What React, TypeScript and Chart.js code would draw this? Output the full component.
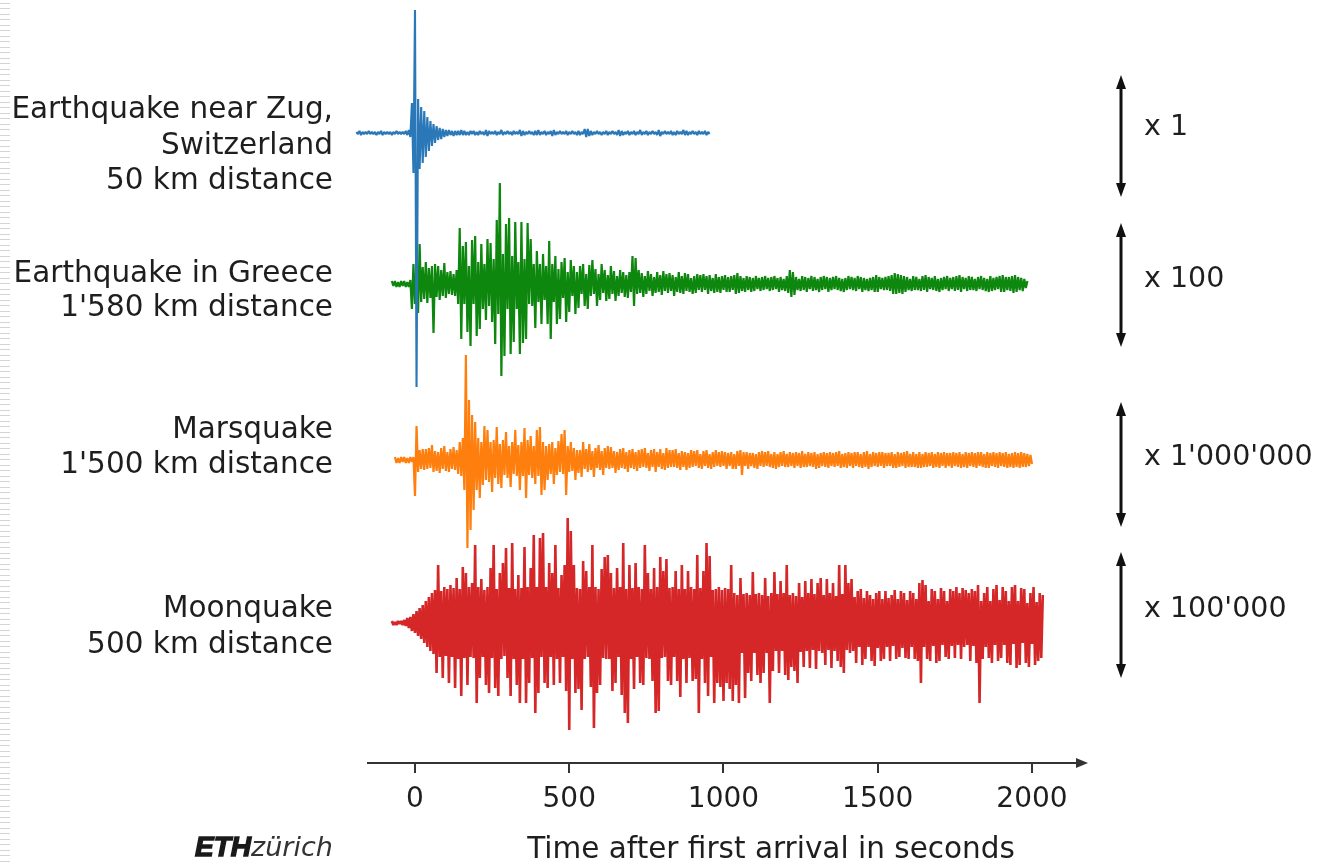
import React, { useEffect, useRef } from "react";
import { Chart, registerables } from "chart.js";

Chart.register(...registerables);

// ---------------- DATA ----------------
const SAMPLE_STEP = 5;

const ZUG_START = -190;
const ZUG_AMPS = [
  1,-1,2,-2,1,-1,1,-1,2,-1,1,-1,1,-2,1,-1,2,-2,1,-1,
  1,-1,1,-2,1,-1,2,-1,1,-1,1,-1,2,-2,3,-4,30,-40,123,-254,
  34,-36,26,-30,22,-24,16,-18,12,-13,9,-10,7,-7,5,-6,4,-4,3,-3,
  3,-2,2,-3,2,-2,2,-2,3,-2,2,-2,1,-2,2,-1,2,-2,1,-2,
  2,-1,1,-2,3,-3,2,-1,1,-1,2,-2,1,-1,3,-2,1,-1,2,-1,
  1,-2,2,-1,1,-1,3,-3,2,-2,1,-1,2,-1,1,-2,2,-2,3,-2,
  1,-1,2,-2,1,-1,2,-3,3,-2,1,-1,2,-1,1,-1,2,-2,1,-1,
  2,-1,1,-2,2,-2,1,-1,4,-4,4,-3,2,-2,1,-1,2,-1,1,-2,
  1,-1,2,-2,1,-1,2,-1,1,-2,3,-3,2,-2,1,-1,2,-2,1,-1,
  2,-2,1,-1,3,-2,1,-1,2,-2,1,-1,2,-1,1,-2,3,-3,1,-1,
  2,-1,1,-1,2,-2,1,-2,2,-1,1,-1,3,-2,2,-2,1,-1,2,-1,
  1,-2,2,-1,1,-1,2,-2,1,-1,
];

const GREECE_START = -75;
const GREECE_AMPS = [
  3,-2,3,-3,2,-3,3,-2,3,-3,2,-3,4,-25,20,-20,15,-29,40,-18,
  17,-15,22,-19,16,-14,18,-49,20,-13,18,-16,14,-12,21,-14,12,-10,13,-11,
  10,-12,14,-20,56,-55,38,-20,42,-48,18,-62,44,-20,48,-52,22,-45,40,-25,
  20,-36,45,-22,41,-38,25,-60,64,-30,101,-92,30,-72,60,-25,66,-70,28,-58,
  62,-25,22,-70,62,-59,25,-55,61,-20,45,-22,20,-44,33,-18,20,-40,30,-16,
  18,-40,43,-55,20,-18,28,-40,15,-35,22,-14,26,-38,12,-28,24,-12,18,-30,
  12,-24,18,-10,20,-22,10,-25,19,-12,24,-10,15,-22,10,-16,20,-9,14,-17,
  9,-15,18,-10,13,-17,8,-12,14,-9,12,-13,9,-14,12,-8,28,-22,26,-10,
  14,-9,11,-13,8,-10,13,-7,10,-12,7,-9,12,-8,9,-11,13,-7,10,-9,
  11,-7,9,-12,7,-8,12,-9,8,-10,11,-7,10,-8,6,-10,8,-9,10,-6,
  9,-8,10,-6,8,-10,9,-7,6,-9,10,-8,7,-9,8,-6,9,-8,7,-8,
  8,-6,9,-10,11,-9,8,-7,6,-8,8,-6,7,-8,6,-7,8,-5,6,-7,
  7,-6,8,-5,6,-7,7,-6,8,-5,6,-8,7,-6,5,-7,8,-9,14,-13,
  12,-11,7,-6,5,-7,8,-6,7,-8,6,-5,8,-7,7,-6,5,-8,7,-6,
  8,-5,7,-8,6,-6,7,-5,8,-6,6,-7,5,-8,6,-6,8,-5,7,-6,
  6,-7,8,-5,7,-8,6,-6,5,-7,6,-6,7,-8,9,-8,7,-5,6,-6,
  7,-6,8,-7,9,-10,11,-10,10,-9,9,-10,8,-8,7,-6,5,-7,8,-6,
  7,-6,5,-7,8,-6,9,-8,7,-5,6,-6,8,-7,5,-8,6,-6,7,-5,
  8,-7,6,-5,7,-7,8,-6,9,-8,7,-5,6,-7,8,-6,7,-6,5,-7,
  7,-5,8,-6,6,-7,5,-8,8,-7,6,-6,7,-5,8,-8,9,-8,7,-6,
  7,-7,8,-9,9,-8,7,-6,6,-7,5,-4,3,
];

const MARS_START = -65;
const MARS_AMPS = [
  3,-3,2,-3,3,-2,3,-3,2,-3,3,-2,3,-36,34,-12,10,-9,11,-10,
  11,-9,12,-8,15,-12,9,-11,8,-13,12,-9,14,-11,8,-12,11,-9,13,-10,
  10,-14,18,-16,22,-30,105,-88,60,-70,45,-50,38,-30,22,-38,18,-25,34,-20,
  30,-22,18,-32,20,-18,33,-24,16,-28,20,-15,28,-18,14,-27,18,-14,30,-16,
  15,-30,18,-16,32,-38,20,-15,24,-18,14,-24,30,-16,33,-35,18,-30,14,-20,
  16,-14,18,-24,12,-15,19,-12,26,-14,30,-35,14,-12,18,-11,12,-20,10,-13,
  10,-17,18,-9,11,-12,16,-10,9,-17,12,-8,15,-10,9,-15,12,-8,14,-9,
  13,-8,9,-13,8,-10,11,-8,12,-9,8,-12,10,-8,11,-9,8,-11,10,-8,
  11,-7,12,-8,7,-11,10,-7,11,-12,8,-7,11,-9,7,-10,12,-8,10,-7,
  10,-7,11,-8,7,-10,9,-7,8,-10,7,-8,10,-7,9,-6,10,-8,6,-9,
  9,-6,10,-8,6,-9,8,-7,10,-6,8,-7,9,-6,8,-9,7,-6,8,-9,
  6,-9,9,-6,10,-15,8,-6,8,-9,7,-6,7,-8,6,-9,8,-6,9,-7,
  8,-6,9,-7,6,-8,8,-9,6,-7,8,-6,9,-7,6,-7,8,-6,7,-8,
  8,-6,7,-8,9,-7,6,-7,8,-6,7,-7,8,-9,6,-8,7,-6,8,-7,
  7,-8,8,-6,7,-7,8,-6,9,-8,6,-7,7,-8,8,-6,7,-8,8,-6,
  8,-7,6,-8,8,-7,9,-9,6,-7,8,-6,7,-7,8,-6,8,-8,7,-6,
  7,-6,8,-8,6,-8,8,-7,7,-6,8,-8,9,-7,6,-7,8,-7,6,-8,
  8,-8,6,-7,8,-7,7,-6,8,-8,6,-7,8,-8,7,-6,8,-8,7,-6,
  7,-8,8,-6,7,-7,8,-8,6,-7,8,-8,7,-6,8,-7,7,-8,8,-6,
  8,-7,6,-8,8,-8,7,-6,8,-7,7,-8,8,-6,7,-7,8,-8,6,-7,
  7,-8,8,-7,7,-8,8,-7,7,-7,6,-6,5,-4,
];

const MOON_START = -75;
const MOON_AMPS = [
  2,-2,1,-2,2,-1,2,-2,3,-3,5,-5,6,-8,9,-10,12,-13,15,-16,
  18,-20,22,-24,26,-28,30,-31,33,-50,58,-34,32,-55,36,-33,34,-60,38,-34,
  35,-65,45,-36,34,-73,56,-35,50,-62,36,-34,40,-35,78,-80,36,-55,44,-34,
  33,-62,36,-70,55,-35,78,-65,34,-73,50,-36,60,-33,75,-55,35,-73,80,-36,
  34,-62,48,-80,35,-36,76,-80,36,-60,55,-35,88,-90,36,-70,85,-34,90,-60,
  36,-65,60,-34,50,-62,78,-36,35,-60,48,-34,58,-68,105,-107,92,-36,58,-70,
  35,-66,34,-87,62,-36,52,-34,36,-64,78,-105,36,-70,34,-62,54,-35,66,-36,
  68,-36,50,-68,35,-60,55,-34,36,-72,80,-90,34,-100,58,-36,35,-66,60,-34,
  36,-60,34,-62,78,-35,50,-36,34,-58,55,-90,36,-88,66,-35,52,-34,64,-58,
  35,-62,36,-34,52,-58,34,-74,58,-36,34,-60,52,-35,36,-58,34,-56,68,-90,
  35,-36,52,-60,80,-73,67,-34,33,-80,34,-60,36,-64,33,-78,35,-60,34,-66,
  58,-78,30,-62,28,-80,45,-30,29,-75,30,-50,28,-58,51,-30,29,-52,30,-60,
  28,-50,45,-30,27,-80,30,-48,51,-28,29,-50,42,-28,30,-52,58,-57,28,-44,
  30,-48,27,-60,40,-29,26,-44,42,-28,30,-45,44,-27,29,-46,40,-28,45,-30,
  28,-42,44,-27,30,-45,40,-28,27,-38,58,-44,29,-50,58,-27,40,-30,44,-28,
  26,-40,32,-24,34,-42,25,-36,32,-24,28,-38,24,-43,30,-25,32,-38,24,-36,
  32,-24,25,-38,28,-23,33,-36,24,-34,32,-25,30,-35,23,-36,32,-24,30,-36,
  24,-38,40,-60,43,-24,38,-36,22,-38,34,-23,32,-40,24,-38,35,-22,32,-34,
  22,-36,34,-23,32,-35,36,-22,30,-36,35,-24,33,-22,30,-38,34,-23,32,-40,
  38,-80,22,-36,30,-24,36,-35,22,-40,34,-22,38,-38,23,-35,36,-22,32,-40,
  22,-42,36,-21,38,-45,22,-42,35,-20,34,-40,20,-44,30,-21,36,-42,21,-38,
  30,-35,28,
];

const TICK_VALUES = [0, 500, 1000, 1500, 2000];
const X_TITLE = "Time after first arrival in seconds";
const SERIES_NAMES = [
  ["Earthquake near Zug,", "Switzerland", "50 km distance"],
  ["Earthquake in Greece", "1'580 km distance"],
  ["Marsquake", "1'500 km distance"],
  ["Moonquake", "500 km distance"],
];
const SCALE_FACTORS = ["x 1", "x 100", "x 1'000'000", "x 100'000"];

// ---------------- LAYOUT / STYLE ----------------
const W = 1322;
const H = 865;
// plotting area (wider on the left so the early part of the Zug trace is kept)
const AREA = { left: 340, right: 1085, top: 5, bottom: 763 };
const AXIS_LINE_LEFT = 367;
const X_MIN = -243.1;
const X_MAX = 2171.8;
const BASE_Y = [133, 284, 460, 623];
const COLORS = ["#2a78b8", "#0d870d", "#ff7f0e", "#d62728"];
const LINE_WIDTHS = [2.1, 2.2, 2.2, 2.6];
const AXIS_IDS = ["yZug", "yGreece", "yMars", "yMoon"];
const TEXT_COLOR = "#1e1e1e";
const FONT = '"DejaVu Sans", Verdana, sans-serif';
const LABEL_RIGHT = 333;
const LABEL_BASELINES = [[118, 154, 189], [282, 316], [438, 473], [617, 653]];
const ARROW_X = 1121;
const ARROW_SPANS = [[75, 197], [223, 347], [402, 527], [552, 678]];
const FACTOR_X = 1144;
const FACTOR_BASELINES = [135, 287, 465, 617];

function toPoints(start: number, amps: number[]) {
  return amps.map((a, i) => ({ x: start + i * SAMPLE_STEP, y: a }));
}

const decorPlugin = {
  id: "decor",
  beforeDraw(chart: any) {
    const ctx = chart.ctx;
    ctx.save();
    ctx.fillStyle = "#ffffff";
    ctx.fillRect(0, 0, W, H);
    ctx.strokeStyle = "#d4d4d4";
    ctx.lineWidth = 1;
    for (let y = 2.5; y < H; y += 5.5) {
      ctx.beginPath();
      ctx.moveTo(0, Math.round(y) + 0.5);
      ctx.lineTo(10, Math.round(y) + 0.5);
      ctx.stroke();
    }
    ctx.restore();
  },
  afterDraw(chart: any) {
    const ctx = chart.ctx;
    const area = chart.chartArea;
    const xs = chart.scales.x;
    ctx.save();
    // time axis line with arrow head
    const ay = xs.top;
    ctx.strokeStyle = "#333333";
    ctx.lineWidth = 2;
    ctx.beginPath();
    ctx.moveTo(AXIS_LINE_LEFT, ay);
    ctx.lineTo(area.right - 4, ay);
    ctx.stroke();
    ctx.fillStyle = "#333333";
    ctx.beginPath();
    ctx.moveTo(area.right + 3, ay);
    ctx.lineTo(area.right - 9, ay - 5);
    ctx.lineTo(area.right - 9, ay + 5);
    ctx.closePath();
    ctx.fill();

    // series labels
    ctx.fillStyle = TEXT_COLOR;
    ctx.font = `29.5px ${FONT}`;
    ctx.textAlign = "right";
    ctx.textBaseline = "alphabetic";
    SERIES_NAMES.forEach((lines, i) =>
      lines.forEach((line, j) => ctx.fillText(line, LABEL_RIGHT, LABEL_BASELINES[i][j]))
    );

    // amplification arrows and factors
    ctx.strokeStyle = "#111111";
    ctx.fillStyle = "#111111";
    ctx.lineWidth = 3;
    ARROW_SPANS.forEach(([y0, y1]) => {
      ctx.beginPath();
      ctx.moveTo(ARROW_X, y0 + 8);
      ctx.lineTo(ARROW_X, y1 - 8);
      ctx.stroke();
      ctx.beginPath();
      ctx.moveTo(ARROW_X, y0);
      ctx.lineTo(ARROW_X - 5, y0 + 14);
      ctx.lineTo(ARROW_X + 5, y0 + 14);
      ctx.closePath();
      ctx.fill();
      ctx.beginPath();
      ctx.moveTo(ARROW_X, y1);
      ctx.lineTo(ARROW_X - 5, y1 - 14);
      ctx.lineTo(ARROW_X + 5, y1 - 14);
      ctx.closePath();
      ctx.fill();
    });
    ctx.fillStyle = TEXT_COLOR;
    ctx.font = `28.5px ${FONT}`;
    ctx.textAlign = "left";
    SCALE_FACTORS.forEach((t, i) => ctx.fillText(t, FACTOR_X, FACTOR_BASELINES[i]));

    // axis title
    ctx.textAlign = "center";
    ctx.font = `29.5px ${FONT}`;
    ctx.fillText(X_TITLE, 771, 858);

    // logo
    ctx.textAlign = "left";
    ctx.fillStyle = "#1a1a1a";
    ctx.strokeStyle = "#1a1a1a";
    ctx.lineWidth = 1.4;
    ctx.font = 'italic bold 28px "Liberation Sans", Arial, sans-serif';
    ctx.fillText("ETH", 195, 856);
    ctx.strokeText("ETH", 195, 856);
    ctx.fillStyle = "#333333";
    ctx.font = `oblique 27px ${FONT}`;
    ctx.fillText("zürich", 251, 856);
    ctx.restore();
  },
};

export default function App() {
  const canvasRef = useRef<HTMLCanvasElement | null>(null);

  useEffect(() => {
    const canvas = canvasRef.current;
    if (!canvas) return;
    const series = [
      toPoints(ZUG_START, ZUG_AMPS),
      toPoints(GREECE_START, GREECE_AMPS),
      toPoints(MARS_START, MARS_AMPS),
      toPoints(MOON_START, MOON_AMPS),
    ];
    const yScales: any = {};
    AXIS_IDS.forEach((id, i) => {
      yScales[id] = {
        type: "linear",
        display: false,
        min: BASE_Y[i] - AREA.bottom,
        max: BASE_Y[i] - AREA.top,
      };
    });
    const chart = new Chart(canvas, {
      type: "line",
      data: {
        datasets: series.map((pts, i) => ({
          label: SERIES_NAMES[i][0],
          data: pts,
          borderColor: COLORS[i],
          backgroundColor: COLORS[i],
          borderWidth: LINE_WIDTHS[i],
          borderJoinStyle: "bevel" as any,
          pointRadius: 0,
          tension: 0,
          fill: false,
          yAxisID: AXIS_IDS[i],
          clip: false as any,
        })),
      },
      options: {
        responsive: false,
        animation: false,
        devicePixelRatio: 1,
        events: [],
        layout: {
          padding: { left: AREA.left, right: W - AREA.right, top: AREA.top, bottom: 0 },
        },
        plugins: {
          legend: { display: false },
          tooltip: { enabled: false },
          title: { display: false },
        },
        scales: {
          x: {
            type: "linear",
            min: X_MIN,
            max: X_MAX,
            offset: false,
            afterFit: (scale: any) => {
              scale.height = H - AREA.bottom;
            },
            afterBuildTicks: (scale: any) => {
              scale.ticks = TICK_VALUES.map((v) => ({ value: v }));
            },
            grid: {
              drawOnChartArea: false,
              drawTicks: true,
              tickLength: 10,
              color: "#333333",
              lineWidth: 2,
            },
            border: { display: false },
            ticks: {
              padding: 10,
              color: TEXT_COLOR,
              font: { family: FONT, size: 28 },
              maxRotation: 0,
              autoSkip: false,
              callback: (v: any) => String(v),
            },
          },
          ...yScales,
        },
      },
      plugins: [decorPlugin],
    });
    return () => chart.destroy();
  }, []);

  return (
    <div style={{ position: "fixed", left: 0, top: 0, width: W, height: H, background: "#fff" }}>
      <canvas ref={canvasRef} width={W} height={H} style={{ display: "block", width: W, height: H }} />
    </div>
  );
}
